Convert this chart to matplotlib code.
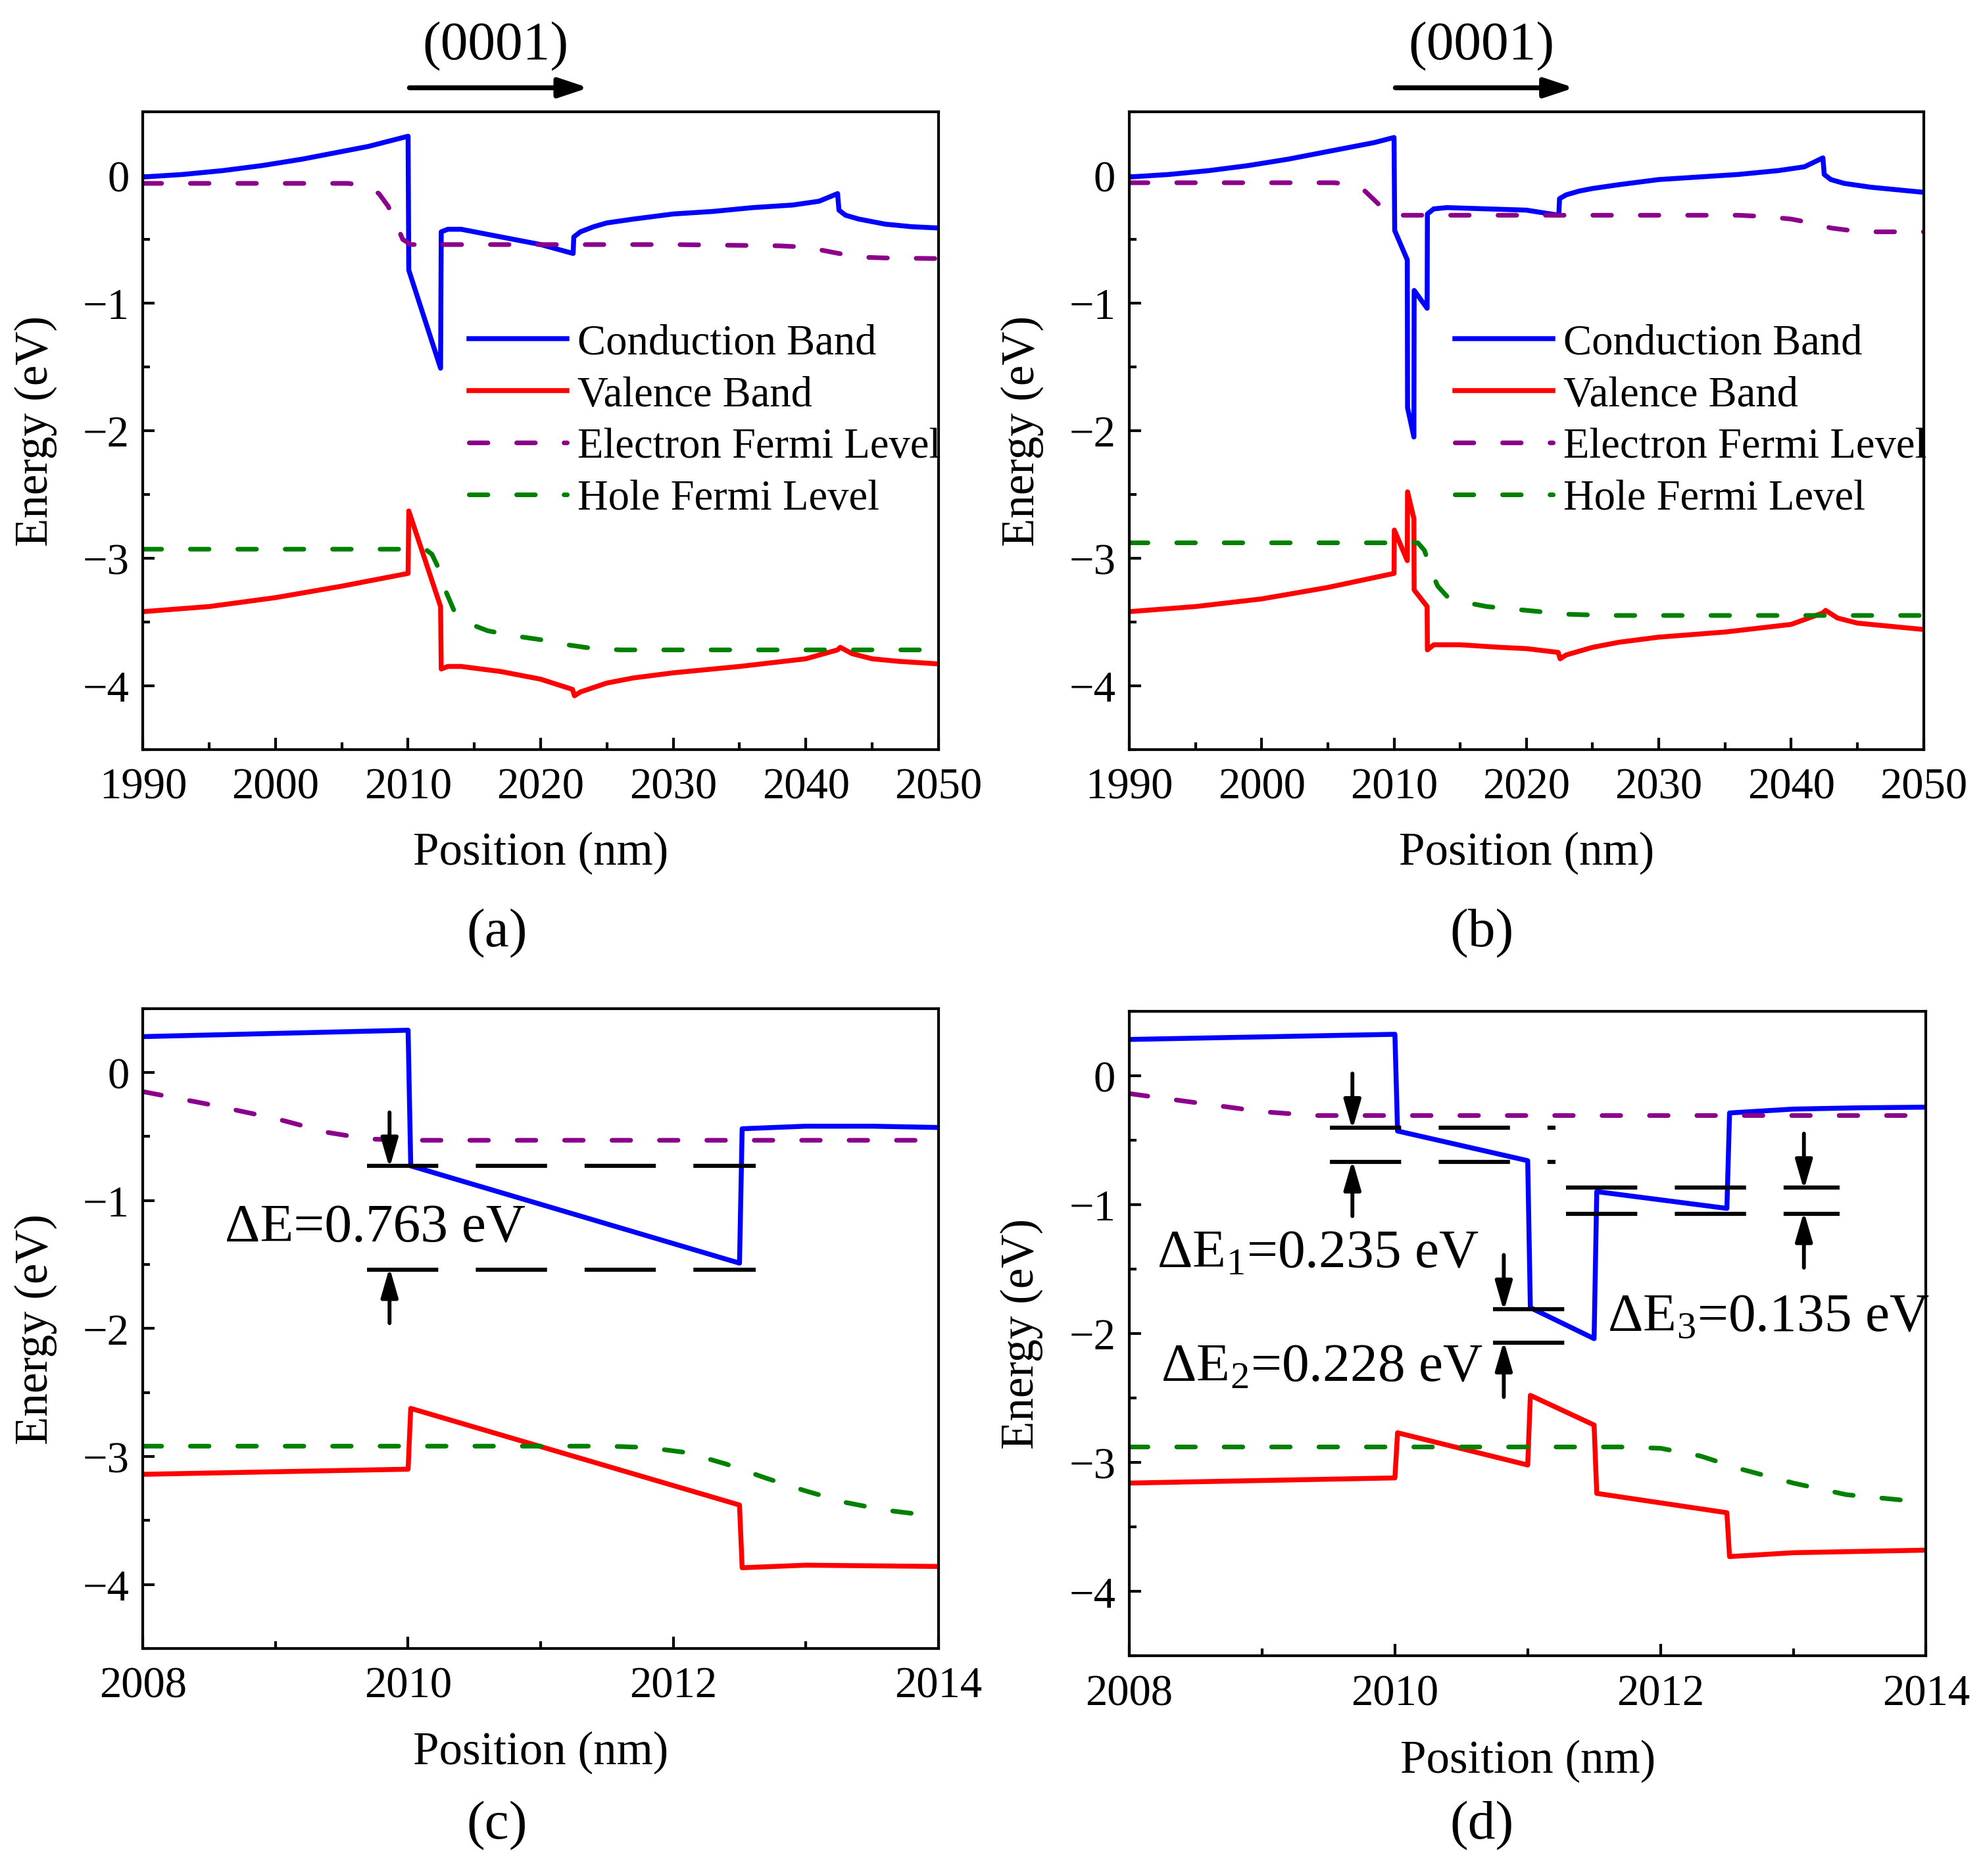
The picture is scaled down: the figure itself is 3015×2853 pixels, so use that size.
import matplotlib
matplotlib.use("Agg")
import matplotlib.pyplot as plt
from matplotlib.ticker import MultipleLocator, FixedLocator

plt.rcParams['font.family'] = ['Liberation Serif', 'DejaVu Serif']
plt.rcParams['mathtext.fontset'] = 'custom'
plt.rcParams['mathtext.rm'] = 'Liberation Serif'
plt.rcParams['mathtext.it'] = 'Liberation Serif:italic'
plt.rcParams['lines.scale_dashes'] = False
plt.rcParams['xtick.direction'] = 'in'
plt.rcParams['ytick.direction'] = 'in'
plt.rcParams['xtick.major.size'] = 4.4
plt.rcParams['ytick.major.size'] = 4.4
plt.rcParams['xtick.minor.size'] = 2.6
plt.rcParams['ytick.minor.size'] = 2.6
plt.rcParams['xtick.major.width'] = 1.0
plt.rcParams['ytick.major.width'] = 1.0
plt.rcParams['xtick.minor.width'] = 1.0
plt.rcParams['ytick.minor.width'] = 1.0
plt.rcParams['axes.linewidth'] = 1.0

# ---------------- data: panel (a) ----------------
a_cb_x = [1990, 1993, 1996, 1999, 2002, 2005, 2007, 2008.5, 2010, 2010.05, 2012.45, 2012.5, 2013,
          2014, 2016, 2018, 2020, 2022.45, 2022.5, 2023, 2024, 2025, 2027, 2030, 2033, 2036, 2039,
          2041, 2042.4, 2042.5, 2043, 2044, 2046, 2048, 2050]
a_cb_e = [-0.01, 0.01, 0.04, 0.08, 0.13, 0.19, 0.23, 0.27, 0.31, -0.74, -1.51, -0.44, -0.42,
          -0.42, -0.46, -0.50, -0.54, -0.61, -0.48, -0.44, -0.40, -0.37, -0.34, -0.30, -0.28,
          -0.25, -0.23, -0.20, -0.14, -0.27, -0.31, -0.34, -0.38, -0.40, -0.41]
a_vb_x = [1990, 1995, 2000, 2005, 2010, 2010.05, 2012.45, 2012.5, 2013, 2014, 2017, 2020, 2022.4,
          2022.55, 2023, 2025, 2027, 2030, 2035, 2040, 2042.4, 2042.6, 2043.5, 2045, 2047, 2050]
a_vb_e = [-3.42, -3.38, -3.31, -3.22, -3.12, -2.63, -3.38, -3.87, -3.85, -3.85, -3.89, -3.95, -4.03,
          -4.08, -4.05, -3.98, -3.94, -3.90, -3.85, -3.79, -3.72, -3.70, -3.75, -3.79, -3.81, -3.83]
a_ef_x = [1990, 2000, 2005.5, 2006.8, 2007.8, 2008.5, 2009.1, 2009.6, 2010.2, 2012, 2020, 2030,
          2038, 2040, 2041.5, 2043, 2044.5, 2046, 2050]
a_ef_e = [-0.06, -0.06, -0.06, -0.08, -0.14, -0.24, -0.38, -0.50, -0.54, -0.54, -0.54, -0.54,
          -0.55, -0.56, -0.59, -0.62, -0.64, -0.645, -0.65]
a_hf_x = [1990, 2000, 2010, 2011.3, 2011.8, 2012.3, 2012.8, 2013.5, 2014.5, 2016, 2018, 2020,
          2022, 2024, 2026, 2050]
a_hf_e = [-2.93, -2.93, -2.93, -2.93, -2.97, -3.08, -3.25, -3.42, -3.51, -3.57, -3.61, -3.64,
          -3.68, -3.71, -3.72, -3.72]

# ---------------- data: panel (b) ----------------
b_cb_x = [1990, 1993, 1996, 1999, 2002, 2005, 2007, 2008.5, 2010, 2010.05, 2011.0, 2011.02, 2011.5,
          2011.52, 2012.5, 2012.52, 2013, 2014, 2017, 2020, 2022.45, 2022.5, 2023, 2024, 2025,
          2027, 2030, 2033, 2036, 2039, 2041, 2042.4, 2042.5, 2043, 2044, 2046, 2048, 2050]
b_cb_e = [-0.01, 0.01, 0.04, 0.08, 0.13, 0.19, 0.23, 0.26, 0.30, -0.43, -0.66, -1.82, -2.05,
          -0.90, -1.04, -0.30, -0.26, -0.25, -0.26, -0.27, -0.31, -0.18, -0.15, -0.12, -0.10,
          -0.07, -0.03, -0.01, 0.01, 0.04, 0.07, 0.14, 0.01, -0.03, -0.06, -0.09, -0.11, -0.13]
b_vb_x = [1990, 1995, 2000, 2005, 2010, 2010.02, 2011.0, 2011.02, 2011.5, 2011.52, 2012.5, 2012.52,
          2013, 2015, 2018, 2020, 2022.4, 2022.55, 2023, 2025, 2027, 2030, 2035, 2040, 2042.4,
          2042.6, 2043.5, 2045, 2047, 2050]
b_vb_e = [-3.42, -3.38, -3.32, -3.23, -3.12, -2.78, -3.02, -2.48, -2.69, -3.25, -3.38, -3.72,
          -3.68, -3.68, -3.70, -3.71, -3.74, -3.79, -3.76, -3.70, -3.66, -3.62, -3.58, -3.52, -3.43,
          -3.41, -3.47, -3.51, -3.53, -3.56]
b_ef_x = [1990, 2000, 2005.5, 2006.8, 2007.8, 2008.6, 2009.3, 2010, 2012, 2020, 2030, 2036,
          2038, 2040, 2041.5, 2043, 2044.5, 2046, 2050]
b_ef_e = [-0.055, -0.055, -0.055, -0.07, -0.12, -0.20, -0.27, -0.31, -0.31, -0.31, -0.31, -0.31,
          -0.32, -0.34, -0.37, -0.41, -0.43, -0.44, -0.44]
b_hf_x = [1990, 2000, 2010, 2011.8, 2012.3, 2012.8, 2013.3, 2014, 2015, 2017, 2020, 2023, 2026, 2050]
b_hf_e = [-2.88, -2.88, -2.88, -2.88, -2.94, -3.10, -3.22, -3.30, -3.34, -3.38, -3.41, -3.44,
          -3.45, -3.45]

# ---------------- data: panel (c) ----------------
c_cb_x = [2008, 2010, 2010.02, 2012.5, 2012.52, 2013, 2013.5, 2014]
c_cb_e = [0.28, 0.33, -0.73, -1.49, -0.44, -0.42, -0.42, -0.43]
c_vb_x = [2008, 2010, 2010.02, 2012.5, 2012.52, 2013, 2014]
c_vb_e = [-3.14, -3.10, -2.625, -3.38, -3.87, -3.85, -3.86]
c_ef_x = [2008, 2008.5, 2009, 2009.4, 2009.7, 2010, 2014]
c_ef_e = [-0.15, -0.25, -0.36, -0.47, -0.52, -0.53, -0.53]
c_hf_x = [2008, 2011.5, 2011.8, 2012.1, 2012.4, 2012.7, 2013, 2013.3, 2013.6, 2014]
c_hf_e = [-2.92, -2.92, -2.93, -2.97, -3.06, -3.17, -3.27, -3.36, -3.42, -3.47]

# ---------------- data: panel (d) ----------------
d_cb_x = [2008, 2010, 2010.02, 2011, 2011.02, 2011.5, 2011.52, 2012.5, 2012.52, 2013, 2013.5, 2014]
d_cb_e = [0.28, 0.32, -0.43, -0.66, -1.80, -2.04, -0.90, -1.03, -0.29, -0.26, -0.25, -0.245]
d_vb_x = [2008, 2010, 2010.02, 2011, 2011.02, 2011.5, 2011.52, 2012.5, 2012.52, 2013, 2014]
d_vb_e = [-3.16, -3.12, -2.77, -3.02, -2.48, -2.71, -3.24, -3.39, -3.73, -3.70, -3.68]
d_ef_x = [2008, 2008.5, 2009, 2009.4, 2010, 2014]
d_ef_e = [-0.14, -0.21, -0.28, -0.31, -0.31, -0.31]
d_hf_x = [2008, 2011.7, 2012, 2012.3, 2012.6, 2013, 2013.4, 2014]
d_hf_e = [-2.88, -2.88, -2.89, -2.95, -3.05, -3.16, -3.25, -3.31]

# energy-gap markers: (text, text x, text baseline, arrow x, level top, level bottom, line x0, line x1)
c_gaps = [("ΔE=0.763 eV", 2008.62, -1.317, 2009.86, -0.732, -1.539, 2009.69, 2012.62)]
d_gaps = [("ΔE$_1$=0.235 eV", 2008.21, -1.478, 2009.68, -0.404, -0.670, 2009.51, 2011.21),
          ("ΔE$_2$=0.228 eV", 2008.24, -2.366, 2010.82, -1.811, -2.073, 2010.74, 2011.28),
          ("ΔE$_3$=0.135 eV", 2011.60, -1.975, 2013.08, -0.870, -1.070, 2011.29, 2013.35)]

panels = [
    ("(a)", [0.0721, 0.6004, 0.4011, 0.3396], (1990, 2050), 10, 5,
     (a_cb_x, a_cb_e, a_vb_x, a_vb_e, a_ef_x, a_ef_e, a_hf_x, a_hf_e), 0.2506, 0.5027),
    ("(b)", [0.5695, 0.6004, 0.4005, 0.3396], (1990, 2050), 10, 5,
     (b_cb_x, b_cb_e, b_vb_x, b_vb_e, b_ef_x, b_ef_e, b_hf_x, b_hf_e), 0.7474, 0.5027),
    ("(c)", [0.0721, 0.1213, 0.4011, 0.3410], (2008, 2014), 2, 1,
     (c_cb_x, c_cb_e, c_vb_x, c_vb_e, c_ef_x, c_ef_e, c_hf_x, c_hf_e), 0.2506, 0.027),
    ("(d)", [0.5695, 0.1173, 0.4018, 0.3436], (2008, 2014), 2, 1,
     (d_cb_x, d_cb_e, d_vb_x, d_vb_e, d_ef_x, d_ef_e, d_hf_x, d_hf_e), 0.7474, 0.027),
]

fig = plt.figure(figsize=(10.05, 9.513), dpi=300)

fermi_dash = (0, (6.8, 10.5))
gap_dash = (0, (26, 13.7))

axes = []
for tag, rect, xlim, major, minor, d, lx, ly in panels:
    ax = fig.add_axes(rect)
    cbx, cbe, vbx, vbe, efx, efe, hfx, hfe = d
    ax.plot(cbx, cbe, color='#0000ff', lw=1.8, label='Conduction Band', solid_joinstyle='round')
    ax.plot(vbx, vbe, color='#ff0000', lw=1.8, label='Valence Band', solid_joinstyle='round')
    ax.plot(efx, efe, color='#8b008b', lw=1.7, ls=fermi_dash, dash_capstyle='round',
            label='Electron Fermi Level')
    ax.plot(hfx, hfe, color='#008000', lw=1.7, ls=fermi_dash, dash_capstyle='round',
            label='Hole Fermi Level')
    ax.set_xlim(*xlim)
    ax.set_ylim(-4.5, 0.5)
    ax.xaxis.set_major_locator(MultipleLocator(major))
    ax.xaxis.set_minor_locator(MultipleLocator(minor))
    ax.yaxis.set_major_locator(FixedLocator([0, -1, -2, -3, -4]))
    ax.yaxis.set_minor_locator(FixedLocator([0.5, -0.5, -1.5, -2.5, -3.5, -4.5]))
    ax.tick_params(axis='both', labelsize=16)
    ax.tick_params(axis='x', pad=6.5)
    ax.tick_params(axis='y', pad=5)
    ax.set_xlabel('Position (nm)', fontsize=17)
    ax.set_ylabel('Energy (eV)', fontsize=17)
    ax.xaxis.set_label_coords(0.5, -0.162)
    ax.xaxis.label.set_va('center')
    ax.yaxis.set_label_coords(-0.135, 0.5)
    ax.yaxis.label.set_va('center')
    fig.text(lx, ly, tag, fontsize=20, ha='center', va='center')
    axes.append(ax)

# legends and growth direction for (a) and (b)
for ax in axes[:2]:
    ax.legend(loc='center left', bbox_to_anchor=(0.41, 0.515), frameon=False, fontsize=15.5,
              borderpad=0, borderaxespad=0, handlelength=2.3, handletextpad=0.25,
              labelspacing=0.3)
    ax.annotate('', xy=(2023.6, 0.69), xytext=(2010.1, 0.69), annotation_clip=False,
                arrowprops=dict(arrowstyle='-|>,head_length=0.45,head_width=0.15', lw=1.8,
                                color='k', mutation_scale=20, shrinkA=0, shrinkB=0))
    ax.text(2016.6, 1.02, '(0001)', fontsize=20, ha='center', va='center', clip_on=False)

arrow_style = dict(arrowstyle='-|>,head_length=0.45,head_width=0.13', lw=1.4, color='k',
                   mutation_scale=20, shrinkA=0, shrinkB=0)
for ax, gaps in ((axes[2], c_gaps), (axes[3], d_gaps)):
    for txt, tx, ty, axx, top, bot, x0, x1 in gaps:
        ax.plot([x0, x1], [top, top], color='k', lw=1.5, ls=gap_dash, dash_capstyle='butt')
        ax.plot([x0, x1], [bot, bot], color='k', lw=1.5, ls=gap_dash, dash_capstyle='butt')
        ax.annotate('', xy=(axx, top - 0.015), xytext=(axx, top + 0.42), arrowprops=arrow_style)
        ax.annotate('', xy=(axx, bot + 0.015), xytext=(axx, bot - 0.42), arrowprops=arrow_style)
        ax.text(tx, ty, txt, fontsize=20, ha='left', va='baseline')

fig.savefig('out.png', dpi=300)
